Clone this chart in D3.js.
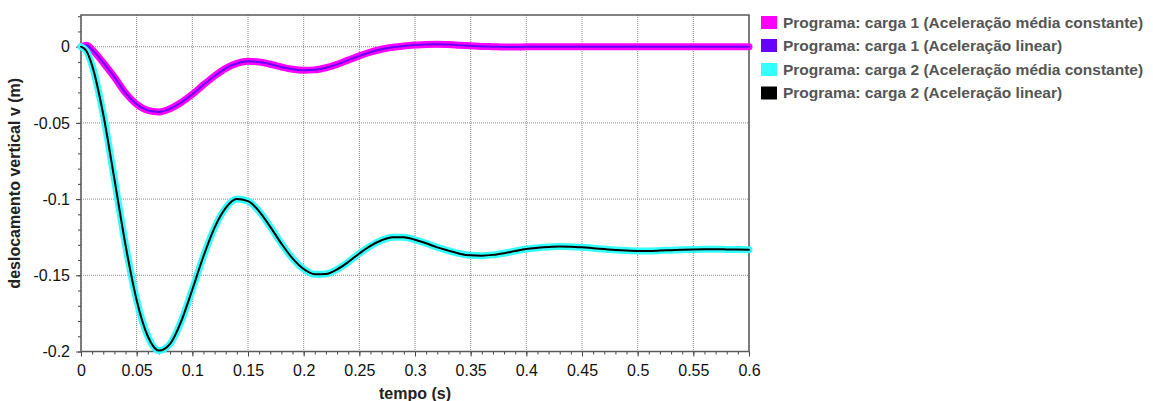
<!DOCTYPE html>
<html lang="pt">
<head>
    <meta charset="UTF-8">
    <title>Deslocamento vertical</title>
    <script src="https://cdnjs.cloudflare.com/ajax/libs/d3/7.8.5/d3.min.js"></script>
    <style>
        body {
            margin: 0;
            background-color: white;
            font-family: "Liberation Sans", Arial, sans-serif;
        }
        svg { display: block; }
    </style>
</head>
<body>
    <svg id="chart" width="1153" height="401"></svg>

    <script>
        // Data
        const tempo = [0, 0.005, 0.01, 0.02, 0.03, 0.04, 0.05, 0.06, 0.07, 0.08, 0.09,
            0.10, 0.11, 0.12, 0.13, 0.14, 0.15, 0.16, 0.17, 0.18, 0.19,
            0.20, 0.21, 0.22, 0.23, 0.24, 0.25, 0.26, 0.27, 0.28, 0.29,
            0.30, 0.31, 0.32, 0.33, 0.34, 0.35, 0.36, 0.37, 0.38, 0.39,
            0.40, 0.41, 0.42, 0.43, 0.44, 0.45, 0.46, 0.47, 0.48, 0.49,
            0.50, 0.51, 0.52, 0.53, 0.54, 0.55, 0.56, 0.57, 0.58, 0.59, 0.60];

        const carga1Media = [0, 0.001, -0.002, -0.0105, -0.020, -0.0303, -0.0378, -0.0418, -0.0428, -0.0407, -0.0366,
            -0.0312, -0.0250, -0.0192, -0.0142, -0.0110, -0.0096, -0.0100, -0.0115, -0.0133, -0.0148,
            -0.0155, -0.0152, -0.0138, -0.0116, -0.0088, -0.0060, -0.0036, -0.0017, -0.0004, 0.0005,
            0.0011, 0.0015, 0.0016, 0.0014, 0.0010, 0.0006, 0.0002, 0, -0.0002, -0.0002,
            -0.0001, 0, 0, 0, 0, 0, 0, 0, 0, 0,
            0, 0, 0, 0, 0, 0, 0, 0, 0, 0, 0];

        const carga1Linear = [0, 0.001, -0.002, -0.0105, -0.020, -0.0303, -0.0378, -0.0418, -0.0428, -0.0407, -0.0366,
            -0.0312, -0.0250, -0.0192, -0.0142, -0.0110, -0.0096, -0.0100, -0.0115, -0.0133, -0.0148,
            -0.0155, -0.0152, -0.0138, -0.0116, -0.0088, -0.0060, -0.0036, -0.0017, -0.0004, 0.0005,
            0.0011, 0.0015, 0.0016, 0.0014, 0.0010, 0.0006, 0.0002, 0, -0.0002, -0.0002,
            -0.0001, 0, 0, 0, 0, 0, 0, 0, 0, 0,
            0, 0, 0, 0, 0, 0, 0, 0, 0, 0, 0];

        const carga2Media = [0, -0.003, -0.0124, -0.0445, -0.0869, -0.1302, -0.1663, -0.1900, -0.1994, -0.1950, -0.1802,
            -0.1593, -0.1375, -0.1187, -0.1058, -0.1000, -0.1013, -0.1080, -0.1182, -0.1292, -0.1389,
            -0.1459, -0.1493, -0.1491, -0.1461, -0.1413, -0.1357, -0.1307, -0.1270, -0.1250, -0.1250,
            -0.1267, -0.1290, -0.1317, -0.1338, -0.1358, -0.1369, -0.1371, -0.1366, -0.1355, -0.1341,
            -0.1328, -0.1320, -0.1314, -0.1311, -0.1312, -0.1316, -0.1322, -0.1328, -0.1334, -0.1338,
            -0.1340, -0.1340, -0.1338, -0.1335, -0.1332, -0.1330, -0.1329, -0.1329, -0.1330, -0.1331, -0.1332];

        const carga2Linear = [0, -0.003, -0.0124, -0.0445, -0.0869, -0.1302, -0.1663, -0.1900, -0.1994, -0.1950, -0.1802,
            -0.1593, -0.1375, -0.1187, -0.1058, -0.1000, -0.1013, -0.1080, -0.1182, -0.1292, -0.1389,
            -0.1459, -0.1493, -0.1491, -0.1461, -0.1413, -0.1357, -0.1307, -0.1270, -0.1250, -0.1250,
            -0.1267, -0.1290, -0.1317, -0.1338, -0.1358, -0.1369, -0.1371, -0.1366, -0.1355, -0.1341,
            -0.1328, -0.1320, -0.1314, -0.1311, -0.1312, -0.1316, -0.1322, -0.1328, -0.1334, -0.1338,
            -0.1340, -0.1340, -0.1338, -0.1335, -0.1332, -0.1330, -0.1329, -0.1329, -0.1330, -0.1331, -0.1332];

        const seriesNames = [
            "Programa: carga 1 (Aceleração média constante)",
            "Programa: carga 1 (Aceleração linear)",
            "Programa: carga 2 (Aceleração média constante)",
            "Programa: carga 2 (Aceleração linear)"
        ];
        const seriesValues = [carga1Media, carga1Linear, carga2Media, carga2Linear];
        const seriesColors = ["#ff00ff", "#6600ff", "#33ffff", "#000000"];
        const seriesWidths = [7, 2, 7, 2];

        const xTicks = [0, 0.05, 0.1, 0.15, 0.2, 0.25, 0.3, 0.35, 0.4, 0.45, 0.5, 0.55, 0.6];
        const xTickLabels = ["0", "0.05", "0.1", "0.15", "0.2", "0.25", "0.3", "0.35", "0.4", "0.45", "0.5", "0.55", "0.6"];
        const yTicks = [0, -0.05, -0.1, -0.15, -0.2];
        const yTickLabels = ["0", "-0.05", "-0.1", "-0.15", "-0.2"];

        // Layout
        const plot = { left: 81, right: 749, top: 15, bottom: 351.5 };

        const svg = d3.select("#chart");

        const x = d3.scaleLinear().domain([0, 0.6]).range([plot.left, plot.right]);
        const y = d3.scaleLinear().domain([-0.2, 0.0208]).range([plot.bottom, plot.top]);

        // Grid
        const grid = svg.append("g").attr("class", "grid");
        grid.selectAll("line.gx")
            .data(xTicks)
            .enter().append("line")
            .attr("x1", d => x(d)).attr("x2", d => x(d))
            .attr("y1", plot.top).attr("y2", plot.bottom)
            .attr("stroke", "#8a8a8a")
            .attr("stroke-width", 1)
            .attr("stroke-dasharray", "1,1");
        grid.selectAll("line.gy")
            .data(yTicks)
            .enter().append("line")
            .attr("x1", plot.left).attr("x2", plot.right)
            .attr("y1", d => y(d)).attr("y2", d => y(d))
            .attr("stroke", "#8a8a8a")
            .attr("stroke-width", 1)
            .attr("stroke-dasharray", "1,1");

        // Minor ticks every 0.01
        const xMinor = d3.range(0, 0.6001, 0.01).map(v => +v.toFixed(2));
        const yMinor = d3.range(-0.2, 0.0201, 0.01).map(v => +v.toFixed(2));

        svg.append("g")
            .attr("transform", `translate(0,${plot.bottom})`)
            .call(d3.axisBottom(x).tickValues(xMinor).tickSize(3).tickFormat(""))
            .call(g => g.select(".domain").remove())
            .call(g => g.selectAll("line").attr("stroke", "#444"));

        svg.append("g")
            .attr("transform", `translate(${plot.left},0)`)
            .call(d3.axisLeft(y).tickValues(yMinor).tickSize(3).tickFormat(""))
            .call(g => g.select(".domain").remove())
            .call(g => g.selectAll("line").attr("stroke", "#444"));

        // Major axes
        svg.append("g")
            .attr("transform", `translate(0,${plot.bottom})`)
            .call(d3.axisBottom(x).tickValues(xTicks).tickSize(5).tickPadding(8)
                .tickFormat((d, i) => xTickLabels[i]))
            .call(g => g.select(".domain").remove())
            .call(g => g.selectAll("line").attr("stroke", "#444"))
            .call(g => g.selectAll("text")
                .attr("fill", "#111")
                .style("font-size", "16px")
                .style("font-family", "'Liberation Sans', Arial, sans-serif"));

        svg.append("g")
            .attr("transform", `translate(${plot.left},0)`)
            .call(d3.axisLeft(y).tickValues(yTicks).tickSize(5).tickPadding(6)
                .tickFormat((d, i) => yTickLabels[i]))
            .call(g => g.select(".domain").remove())
            .call(g => g.selectAll("line").attr("stroke", "#444"))
            .call(g => g.selectAll("text")
                .attr("fill", "#111")
                .style("font-size", "16px")
                .style("font-family", "'Liberation Sans', Arial, sans-serif"));

        // Frame
        svg.append("rect")
            .attr("x", plot.left).attr("y", plot.top)
            .attr("width", plot.right - plot.left)
            .attr("height", plot.bottom - plot.top)
            .attr("fill", "none")
            .attr("stroke", "#5a5a5a")
            .attr("stroke-width", 1.5);

        // Lines
        const line = d3.line()
            .x((d, i) => x(tempo[i]))
            .y(d => y(d))
            .curve(d3.curveMonotoneX);

        svg.append("g")
            .selectAll("path")
            .data(seriesValues)
            .enter().append("path")
            .attr("d", d => line(d))
            .attr("fill", "none")
            .attr("stroke", (d, i) => seriesColors[i])
            .attr("stroke-width", (d, i) => seriesWidths[i])
            .attr("stroke-linejoin", "round")
            .attr("stroke-linecap", "round");

        // Axis titles
        svg.append("text")
            .attr("x", 415)
            .attr("y", 399)
            .attr("text-anchor", "middle")
            .attr("fill", "#222")
            .style("font-size", "16px")
            .style("font-weight", "bold")
            .text("tempo (s)");

        svg.append("text")
            .attr("transform", `translate(20,${(plot.top + plot.bottom) / 2}) rotate(-90)`)
            .attr("text-anchor", "middle")
            .attr("fill", "#222")
            .style("font-size", "16px")
            .style("font-weight", "bold")
            .text("deslocamento vertical v (m)");

        // Legend
        const legend = svg.append("g").attr("transform", "translate(761,0)");
        const legendRows = [22.5, 45.5, 69.5, 93];
        seriesNames.forEach((name, i) => {
            legend.append("rect")
                .attr("x", 0)
                .attr("y", legendRows[i] - 6.5)
                .attr("width", 16)
                .attr("height", 13)
                .attr("fill", seriesColors[i]);
            legend.append("text")
                .attr("x", 22)
                .attr("y", legendRows[i])
                .attr("dy", "0.35em")
                .attr("fill", "#555")
                .style("font-size", "15.5px")
                .style("font-weight", "bold")
                .text(name);
        });
    </script>
</body>
</html>
